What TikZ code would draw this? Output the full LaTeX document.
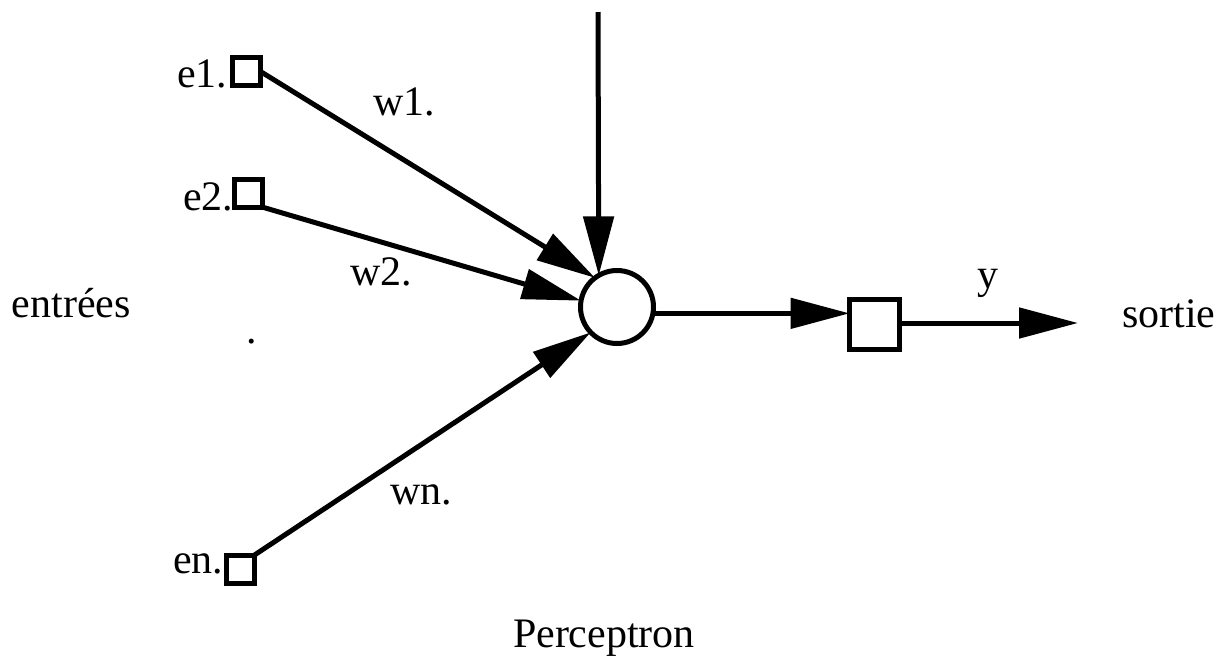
\documentclass[tikz,border=0pt]{standalone}
\usepackage{fontspec}
\setmainfont{Liberation Serif}
\usetikzlibrary{arrows.meta}
\begin{document}
\begin{tikzpicture}[x=1pt,y=1pt,
  every node/.style={inner sep=0pt,outer sep=0pt},
  lbl/.style={anchor=base west,font=\fontsize{42}{50}\selectfont},
  insq/.style={draw,line width=5pt,minimum size=28pt,fill=white},
  outsq/.style={draw,line width=5pt,minimum size=50pt},
  neuron/.style={draw,circle,line width=5pt,minimum size=73pt},
  arr/.style={line width=5pt,-{Triangle[length=59pt,width=30pt]}}]
\useasboundingbox (0,0) rectangle (1223,-657);
% nodes
\node[insq] (e1) at (246.5,-71.5) {};
\node[insq] (e2) at (248,-193) {};
\node[insq] (en) at (240.5,-569) {};
\node[neuron] (c) at (617,-307) {};
\node[outsq] (o) at (874.5,-324.5) {};
\coordinate (top) at (598,-12);
\coordinate (end) at (1078,-323);
% connectors
\draw[arr] (top) -- (c.120);
\draw[arr] (e1.east) -- (c.127);
\draw[arr] (e2.south east) -- (c.170);
\draw[arr] (en.north east) -- (c.224);
\draw[arr] (c.-10) -- (c.-10 -| o.west);
\draw[arr] (o.east |- end) -- (end);
% labels
\node[lbl] (le1) at (177,-87) {e1.};
\node[lbl] (le2) at (183,-210) {e2.};
\node[lbl] (len) at (173,-573) {en.};
\node[lbl] (lw1) at (373,-115) {w1.};
\node[lbl] (lw2) at (350,-285) {w2.};
\node[lbl] (lwn) at (390,-504) {wn.};
\node[lbl] (lent) at (12,-317) {entrées};
\node[lbl] (ldot) at (246.5,-343) {.};
\node[lbl] (ly) at (977,-288) {y};
\node[lbl] (lsor) at (1122,-327) {sortie};
\node[lbl] (lper) at (513,-647) {Perceptron};
\end{tikzpicture}
\end{document}
